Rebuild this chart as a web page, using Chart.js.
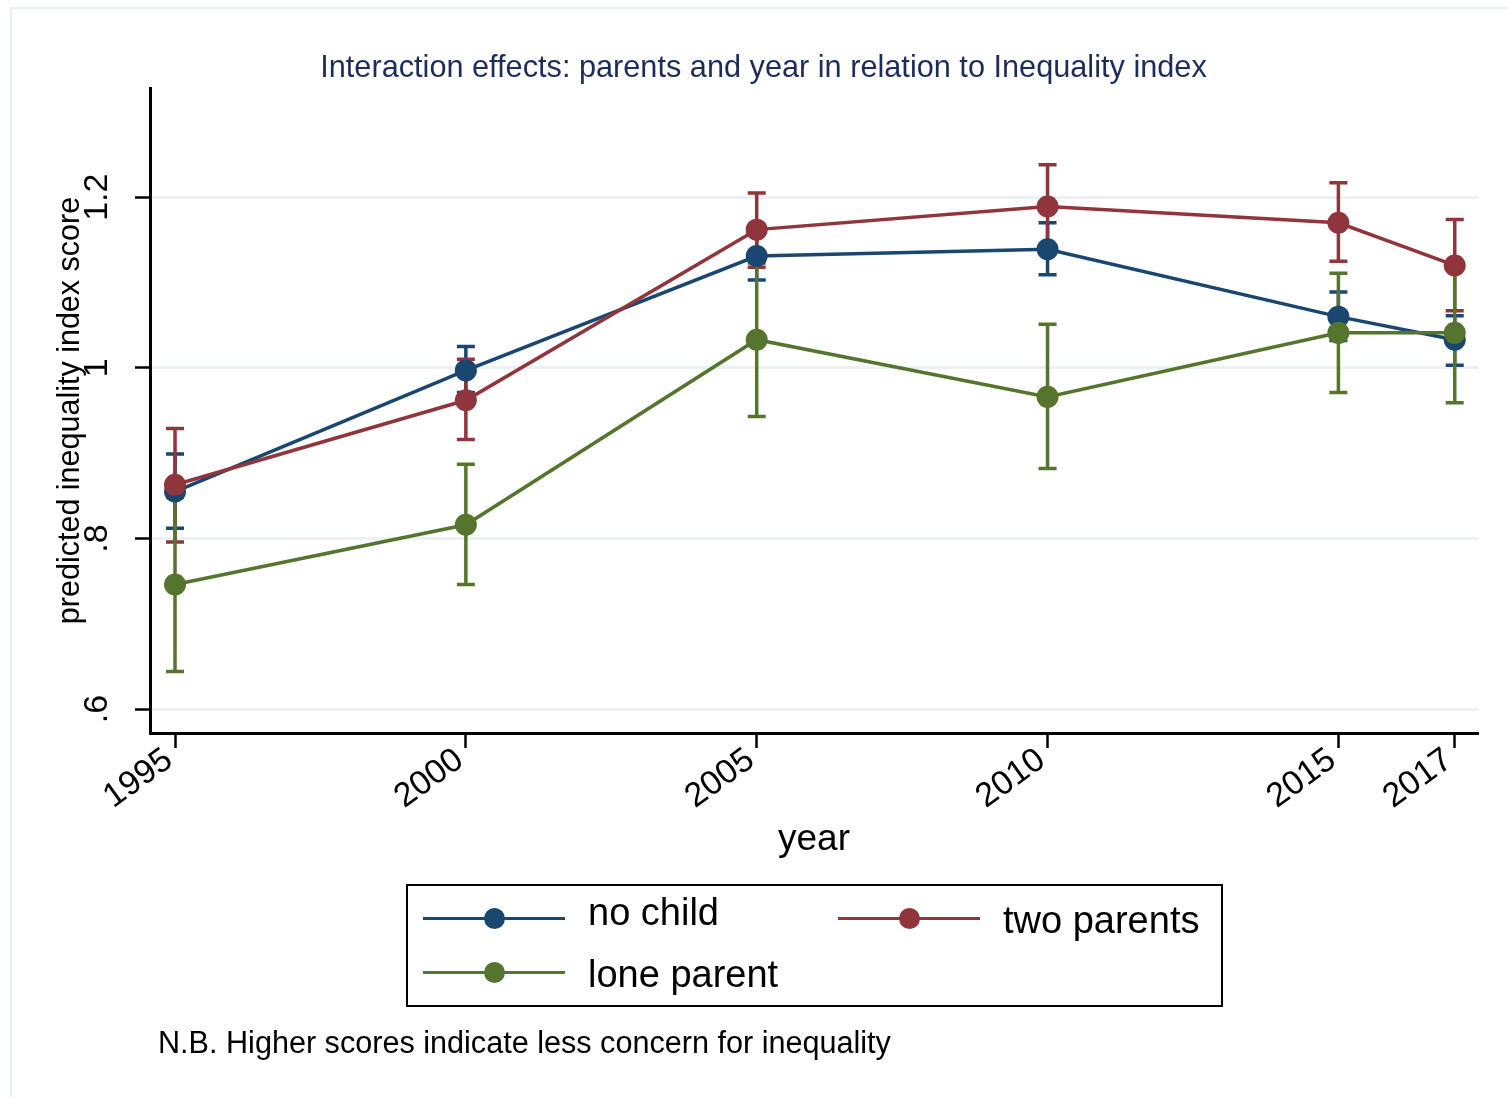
<!DOCTYPE html>
<html>
<head>
<meta charset="utf-8">
<script src="https://cdn.jsdelivr.net/npm/chart.js@4.4.1/dist/chart.umd.min.js"></script>
<style>
  body { margin: 0; background: #fff; font-family: "Liberation Sans", Arial, sans-serif; }
  #wrap { position: relative; width: 1507px; height: 1097px; overflow: hidden; }
  #frame { position: absolute; left: 10px; top: 7px; width: 1510px; height: 1110px; border: 2px solid #e9f0f2; }
  #chart { position: absolute; left: 0; top: 0; }
  #title { position: absolute; left: 20px; width: 1487px; top: 52px; text-align: center;
           font-size: 30.7px; line-height: 1; color: #1e2c5a; }
  #legend { position: absolute; left: 406px; top: 884px; width: 813px; height: 119px; border: 2px solid #000; }
  .lg-line { position: absolute; height: 3px; width: 142px; }
  .lg-dot { position: absolute; width: 21px; height: 21px; border-radius: 50%; }
  .lg-text { position: absolute; font-size: 38px; line-height: 1; color: #000; white-space: nowrap; }
  #note { position: absolute; left: 158px; top: 1027px; font-size: 30.6px; line-height: 1; color: #000; }
</style>
</head>
<body>
<div id="wrap">
  <div id="frame"></div>
  <canvas id="chart" width="1507" height="1097"></canvas>
  <div id="title">Interaction effects: parents and year in relation to Inequality index</div>
  <div id="legend"></div>
  <div id="note">N.B. Higher scores indicate less concern for inequality</div>
</div>
<script>
// survey years
const years = [1995, 2000, 2005, 2010, 2015, 2017];

// predicted score and 95% CI, no child
const noChild   = [0.855, 0.997, 1.131, 1.139, 1.060, 1.033];
const noChildLo = [0.812, 0.971, 1.103, 1.109, 1.032, 1.003];
const noChildHi = [0.899, 1.025, 1.159, 1.170, 1.089, 1.061];

// two parents
const twoParents   = [0.863, 0.962, 1.162, 1.189, 1.170, 1.120];
const twoParentsLo = [0.796, 0.916, 1.118, 1.139, 1.125, 1.067];
const twoParentsHi = [0.929, 1.010, 1.205, 1.238, 1.217, 1.174];

// lone parent
const loneParent   = [0.746, 0.816, 1.033, 0.966, 1.041, 1.041];
const loneParentLo = [0.644, 0.746, 0.943, 0.882, 0.971, 0.959];
const loneParentHi = [0.848, 0.887, 1.123, 1.051, 1.111, 1.123];

const yTicks = [0.6, 0.8, 1, 1.2];
const yTickLabels = ['.6', '.8', '1', '1.2'];
const xTicks = [1995, 2000, 2005, 2010, 2015, 2017];

const FONT = '"Liberation Sans", Arial, sans-serif';

function series(label, vals, lo, hi, color, order) {
  return {
    label: label,
    data: years.map((yr, i) => ({ x: yr, y: vals[i] })),
    lo: lo, hi: hi,
    borderColor: color,
    backgroundColor: color,
    borderWidth: 3.5,
    pointRadius: 11,
    pointBorderWidth: 0,
    pointBackgroundColor: color,
    tension: 0,
    order: order
  };
}

const datasets = [
  series('no child', noChild, noChildLo, noChildHi, '#1a476f', 3),
  series('two parents', twoParents, twoParentsLo, twoParentsHi, '#90353b', 2),
  series('lone parent', loneParent, loneParentLo, loneParentHi, '#55752f', 1)
];

// capped CI bars, drawn under the lines
const errorBars = {
  id: 'errorBars',
  beforeDatasetsDraw(chart) {
    const { ctx, scales: { x, y } } = chart;
    chart.data.datasets.forEach(ds => {
      ctx.save();
      ctx.strokeStyle = ds.borderColor;
      ctx.lineWidth = 3.5;
      ds.data.forEach((p, i) => {
        const px = x.getPixelForValue(p.x);
        const lo = y.getPixelForValue(ds.lo[i]);
        const hi = y.getPixelForValue(ds.hi[i]);
        ctx.beginPath();
        ctx.moveTo(px, lo); ctx.lineTo(px, hi);
        ctx.moveTo(px - 9, lo); ctx.lineTo(px + 9, lo);
        ctx.moveTo(px - 9, hi); ctx.lineTo(px + 9, hi);
        ctx.stroke();
      });
      ctx.restore();
    });
  }
};

new Chart(document.getElementById('chart'), {
  type: 'line',
  data: { datasets: datasets },
  plugins: [errorBars],
  options: {
    responsive: false,
    animation: false,
    layout: { padding: { left: 52, right: 29, top: 88, bottom: 235 } },
    plugins: { legend: { display: false }, tooltip: { enabled: false }, title: { display: false } },
    scales: {
      x: {
        type: 'linear',
        min: 1994.57,
        max: 2017.4,
        afterBuildTicks: s => { s.ticks = xTicks.map(v => ({ value: v })); },
        afterFit: s => { s.height = 129; },
        ticks: {
          autoSkip: false,
          minRotation: 36,
          maxRotation: 36,
          padding: -8,
          labelOffset: -6,
          color: '#000',
          font: { family: FONT, size: 34 },
          callback: v => String(v)
        },
        grid: { drawOnChartArea: false, drawTicks: true, tickLength: 15, tickColor: '#000', tickWidth: 2.5 },
        border: { display: true, color: '#000', width: 3 },
        title: { display: true, text: 'year', color: '#000', padding: 0, font: { family: FONT, size: 37 } }
      },
      y: {
        min: 0.572,
        max: 1.328,
        afterBuildTicks: s => { s.ticks = yTicks.map(v => ({ value: v })); },
        afterFit: s => { s.width = 98; },
        ticks: {
          minRotation: 90,
          maxRotation: 90,
          crossAlign: 'center',
          padding: 14,
          color: '#000',
          font: { family: FONT, size: 34 },
          callback: v => yTickLabels[yTicks.findIndex(t => Math.abs(t - v) < 1e-9)]
        },
        grid: { color: '#eaf2f3', lineWidth: 3, drawTicks: true, tickLength: 15, tickColor: '#000', tickWidth: 2.5 },
        border: { display: true, color: '#000', width: 3 },
        title: { display: true, text: 'predicted inequality index score', color: '#000', padding: 0, font: { family: FONT, size: 30.5 } }
      }
    }
  }
});

// legend box, Stata style, two columns
const legendPos = [
  { line: [15, 32], text: [180, 7] },
  { line: [430, 32], text: [595, 15] },
  { line: [15, 86], text: [180, 69] }
];
const legend = document.getElementById('legend');
datasets.forEach((ds, i) => {
  const p = legendPos[i];
  const line = document.createElement('div');
  line.className = 'lg-line';
  line.style.left = p.line[0] + 'px';
  line.style.top = (p.line[1] - 1.5) + 'px';
  line.style.background = ds.borderColor;
  legend.appendChild(line);
  const dot = document.createElement('div');
  dot.className = 'lg-dot';
  dot.style.left = (p.line[0] + 71 - 10.5) + 'px';
  dot.style.top = (p.line[1] - 10.5) + 'px';
  dot.style.background = ds.borderColor;
  legend.appendChild(dot);
  const txt = document.createElement('div');
  txt.className = 'lg-text';
  txt.style.left = p.text[0] + 'px';
  txt.style.top = p.text[1] + 'px';
  txt.textContent = ds.label;
  legend.appendChild(txt);
});
</script>
</body>
</html>
